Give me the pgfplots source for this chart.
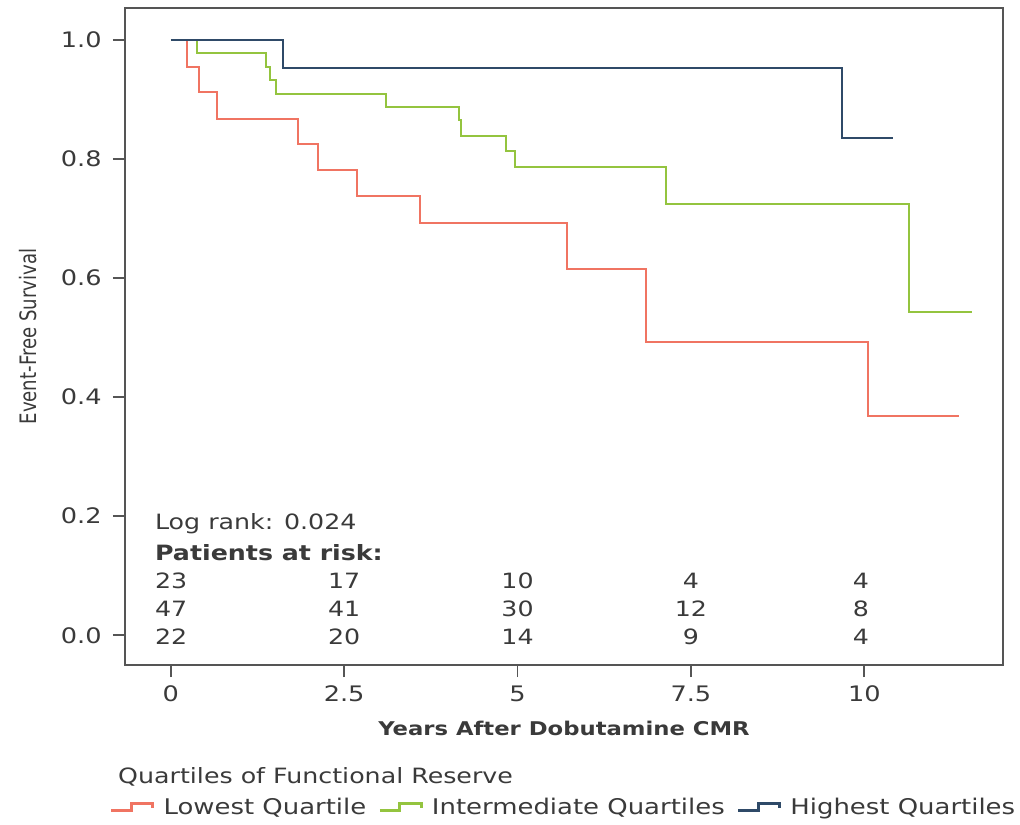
\documentclass[border=0pt]{standalone}
\usepackage{pgfplots}
\pgfplotsset{compat=1.18}
\usepackage{fontspec}
\setmainfont[FakeStretch=1.2]{DejaVu Sans}
\newfontfamily\narrowfont[FakeStretch=0.8]{DejaVu Sans}
\definecolor{lowq}{HTML}{F07462}
\definecolor{midq}{HTML}{94C43F}
\definecolor{highq}{HTML}{2F4A68}
\definecolor{axisgray}{HTML}{555555}
\definecolor{txtgray}{HTML}{3A3A3A}
\begin{document}
\begin{tikzpicture}
\begin{axis}[
    scale only axis,
    clip=false,
    width=658.5pt, height=492.75pt,
    xmin=-0.66, xmax=12.0,
    ymin=-0.05, ymax=1.054,
    xtick={0,2.5,5,7.5,10},
    xticklabels={0,2.5,5,7.5,10},
    ytick={0,0.2,0.4,0.6,0.8,1.0},
    yticklabels={0.0,0.2,0.4,0.6,0.8,1.0},
    tick align=outside,
    xtick pos=bottom, ytick pos=left,
    major tick length=9pt,
    axis line style={axisgray, line width=1.4pt},
    tick style={axisgray, line width=1.4pt},
    ticklabel style={font=\fontsize{16}{19}\selectfont, text=txtgray},
    /pgf/number format/assume math mode=true,
    xticklabel style={yshift=-3pt},
    yticklabel style={xshift=-5pt},
    xlabel={\bfseries Years After Dobutamine CMR},
    xlabel style={font=\fontsize{14.2}{17}\selectfont, text=txtgray,
        at={(rel axis cs:0.5,-0.0959)}, anchor=center},
    ylabel={Event-Free Survival},
    ylabel style={font=\narrowfont\fontsize{17}{20}\selectfont, text=txtgray,
        at={(rel axis cs:-0.1105,0.5)}, anchor=center},
    legend columns=3,
    legend cell align=left,
    legend style={draw=none, fill=none, at={(-0.022,-0.216)}, anchor=west,
        font=\fontsize{16.2}{19}\selectfont, text=txtgray,
        /tikz/every odd column/.append style={column sep=5pt},
        /tikz/every even column/.append style={column sep=7pt}},
    legend image code/.code={
        \draw[#1, line width=2.2pt] (0pt,-3pt) -- (15pt,-3pt) -- (15pt,2.5pt) -- (31pt,2.5pt) -- (31pt,-0.5pt);},
]
% Lowest quartile
\addplot[lowq, line width=1.5pt, const plot] coordinates {
    (0,1.0)(0.23,0.955)(0.41,0.913)(0.67,0.867)(1.83,0.825)(2.13,0.782)
    (2.69,0.738)(3.59,0.693)(5.71,0.615)(6.85,0.492)(10.06,0.368)(11.36,0.368)
};
\addlegendentry{Lowest Quartile}
% Intermediate quartiles
\addplot[midq, line width=1.5pt, const plot] coordinates {
    (0,1.0)(0.38,0.978)(1.38,0.955)(1.43,0.933)(1.52,0.910)(3.11,0.887)
    (4.16,0.866)(4.18,0.839)(4.84,0.813)(4.96,0.787)(7.14,0.725)(10.64,0.543)(11.55,0.543)
};
\addlegendentry{Intermediate Quartiles}
% Highest quartiles
\addplot[highq, line width=1.5pt, const plot] coordinates {
    (0,1.0)(1.62,0.953)(9.68,0.835)(10.41,0.835)
};
\addlegendentry{Highest Quartiles}

\begin{scope}[every node/.style={font=\fontsize{15.8}{19}\selectfont, text=txtgray, inner sep=0pt}]
\node[anchor=west] at (axis cs:-0.23,0.187) {Log rank: 0.024};
\node[anchor=west] at (axis cs:-0.23,0.138) {\bfseries Patients at risk:};
\node[anchor=west] at (axis cs:-0.23,0.092) {23};
\node[anchor=west] at (axis cs:-0.23,0.044) {47};
\node[anchor=west] at (axis cs:-0.23,-0.003) {22};
\node at (axis cs:2.5,0.092) {17};
\node at (axis cs:2.5,0.044) {41};
\node at (axis cs:2.5,-0.003) {20};
\node at (axis cs:5,0.092) {10};
\node at (axis cs:5,0.044) {30};
\node at (axis cs:5,-0.003) {14};
\node at (axis cs:7.5,0.092) {4};
\node at (axis cs:7.5,0.044) {12};
\node at (axis cs:7.5,-0.003) {9};
\node at (axis cs:9.95,0.092) {4};
\node at (axis cs:9.95,0.044) {8};
\node at (axis cs:9.95,-0.003) {4};
\end{scope}
\node[anchor=west, font=\fontsize{15.8}{19}\selectfont, text=txtgray, inner sep=0pt]
    at (rel axis cs:-0.008,-0.170) {Quartiles of Functional Reserve};
\end{axis}
\pgfresetboundingbox
\path[use as bounding box] (-93.75pt,-119.25pt) rectangle (671.25pt,498.75pt);
\end{tikzpicture}
\end{document}
